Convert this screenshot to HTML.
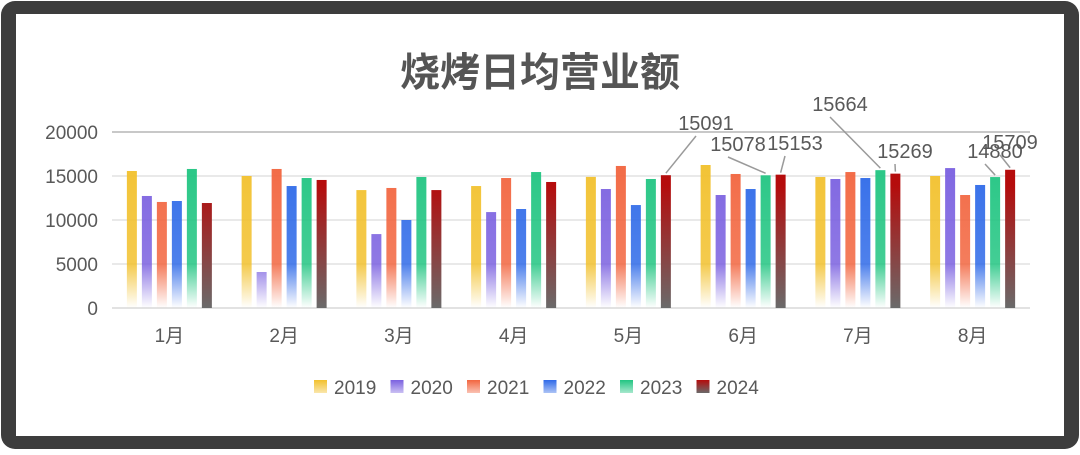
<!DOCTYPE html>
<html><head><meta charset="utf-8"><style>
html,body{margin:0;padding:0;background:#fff}
body{width:1080px;height:450px;overflow:hidden}
</style></head><body>
<svg id="chart" width="1080" height="450" viewBox="0 0 1080 450" xmlns="http://www.w3.org/2000/svg" style="font-family:'Liberation Sans','Noto Sans CJK SC',sans-serif">
<rect x="1" y="1" width="1078" height="448" rx="14" fill="#3d3d3d"/>
<rect x="16" y="14" width="1048" height="422" fill="#fff"/>
<text x="540" y="86" text-anchor="middle" font-size="40" font-weight="bold" fill="#555" font-family="'Liberation Sans','Noto Sans CJK SC',sans-serif">烧烤日均营业额</text>
<g id="defs-holder"></g>
<g id="grid"></g><g id="bars"></g><g id="labels"></g><g id="legend"></g>
</svg>
<script>
const categories=["1月","2月","3月","4月","5月","6月","7月","8月"];
const seriesNames=["2019","2020","2021","2022","2023","2024"];
const s2019=[15570,15000,13400,13860,14900,16250,14890,15000];
const s2020=[12730,4090,8400,10900,13520,12840,14660,15900];
const s2021=[12050,15800,13640,14770,16140,15230,15450,12840];
const s2022=[12160,13860,10000,11250,11700,13520,14770,13980];
const s2023=[15800,14770,14890,15450,14660,15078,15664,14880];
const s2024=[11930,14550,13400,14320,15091,15153,15269,15709];
const yTicks=[0,5000,10000,15000,20000];
const series=[s2019,s2020,s2021,s2022,s2023,s2024];
const colors=["#f2c12e","#7b61e0","#f26640","#2f6ae8","#22c582","#b50c0c"];
// data labels: [seriesIndex, categoryIndex, labelX, labelY]
const labelPts=[[5,4,706,130],[4,5,738,151],[5,5,795,150],[4,6,840,111],[5,6,905,158],[4,7,995,158],[5,7,1010,149]];
const NS="http://www.w3.org/2000/svg";
const x0=112,x1=1030,y0=308,yTop=132,yMax=20000;
const Y=v=>y0-(v/yMax)*(y0-yTop);
const gw=(x1-x0)/categories.length;
const X=(c,s)=>x0+gw*c+gw/2+(s-2.5)*15;
function mk(t,a,p){const e=document.createElementNS(NS,t);for(const k in a)e.setAttribute(k,a[k]);p.appendChild(e);return e;}
const defs=mk('defs',{},document.getElementById('defs-holder'));
colors.forEach((c,i)=>{
  const g=mk('linearGradient',{id:'g'+i,gradientUnits:'userSpaceOnUse',x1:0,y1:yTop,x2:0,y2:y0},defs);
  if(i===5){mk('stop',{offset:'0',    'stop-color':c},g);mk('stop',{offset:'0.3','stop-color':c},g);mk('stop',{offset:'1','stop-color':'#6a6a6a'},g);}
  else{mk('stop',{offset:'0','stop-color':c},g);mk('stop',{offset:'0.75','stop-color':c,'stop-opacity':'0.85'},g);mk('stop',{offset:'1','stop-color':c,'stop-opacity':'0'},g);}
});
const grid=document.getElementById('grid');
yTicks.forEach(t=>{
  const l=mk('line',{x1:x0,x2:x1,y1:Y(t),y2:Y(t),stroke:t===yMax?'#c8c8c8':'#e2e2e2','stroke-width':t===0||t===yMax?2:1.5},grid);
  
  
  const tx=mk('text',{x:98,y:Y(t)+7,'text-anchor':'end','font-size':19,fill:'#595959'},grid);
  tx.textContent=t;
  
  
});
categories.forEach((c,i)=>{
  const tx=mk('text',{x:x0+gw*i+gw/2,y:342,'text-anchor':'middle','font-size':19,fill:'#595959'},grid);
  tx.textContent=c;
  
  
});
const bars=document.getElementById('bars');
series.forEach((arr,s)=>arr.forEach((v,c)=>{
  const r=mk('rect',{x:X(c,s)-5,y:Y(v),width:10,height:y0-Y(v),fill:'url(#g'+s+')'},bars);
  
  
}));
const labels=document.getElementById('labels');
labelPts.forEach(([s,c,lx,ly])=>{
  const v=series[s][c];
  const ln=mk('line',{x1:lx-10,y1:ly+6,x2:X(c,s),y2:Y(v)-2,stroke:'#9a9a9a','stroke-width':1.5},labels);
  
  
  const tx=mk('text',{x:lx,y:ly,'text-anchor':'middle','font-size':20,fill:'#595959'},labels);
  tx.textContent=v;
  
  
});
const leg=document.getElementById('legend');
seriesNames.forEach((n,i)=>{
  const lx=314+i*76.5;
  const r=mk('rect',{x:lx,y:380,width:13,height:13,fill:'url(#lg'+i+')'},leg);
  const g=mk('linearGradient',{id:'lg'+i,x1:0,y1:0,x2:0,y2:1},defs);
  mk('stop',{offset:'0','stop-color':colors[i]},g);
  mk('stop',{offset:'1','stop-color':i===5?'#6a6a6a':colors[i],'stop-opacity':i===5?1:0.4},g);
  
  
  const tx=mk('text',{x:lx+20,y:394,'font-size':19,fill:'#595959'},leg);
  tx.textContent=n;
  
  
});
</script>
</body></html>
